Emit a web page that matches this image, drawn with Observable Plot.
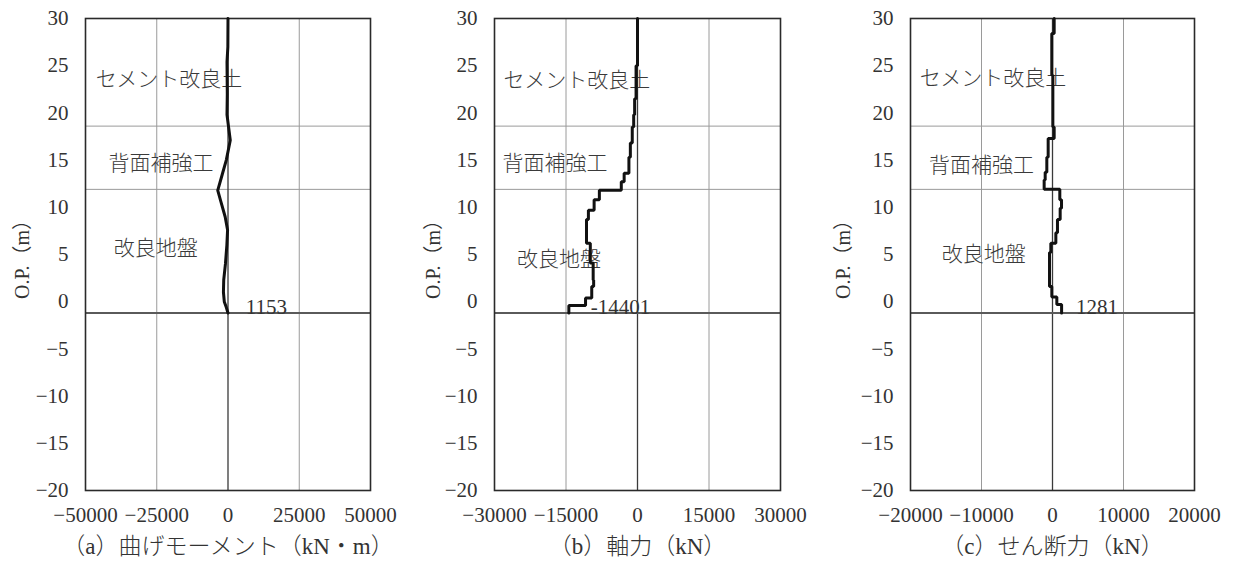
<!DOCTYPE html>
<html>
<head>
<meta charset="utf-8">
<script src="https://cdn.jsdelivr.net/npm/d3@7"></script>
<script src="https://cdn.jsdelivr.net/npm/@observablehq/plot@0.6"></script>
<style>
  html, body { margin: 0; padding: 0; background: #fff; }
  #row { display: flex; flex-direction: row; width: 1237px; height: 567px; }
  #row svg { display: block; }
</style>
</head>
<body>
<div id="row"></div>
<script>
// ---------- shared ----------
const depthTicks = [-20, -15, -10, -5, 0, 5, 10, 15, 20, 25, 30];
const layerBoundaries = [18.6, 11.9];
const baseLevel = -1.2;
const layerNames = ["セメント改良土", "背面補強工", "改良地盤"];
const yLabel = "O.P.（m）";

// ---------- (a) bending moment ----------
const momentTicks = [-50000, -25000, 0, 25000, 50000];
const momentDepth = [30, 27, 25.4, 22, 19.8, 18.5, 17.1, 15, 13.5, 11.8, 10.5, 9, 7.6, 6, 4, 2.3, 1, 0, -0.6, -1.2];
const momentValue = [0, -50, -350, -250, -350, 200, 800, -600, -2000, -3600, -2400, -1000, -150, -400, -900, -1500, -1600, -1300, -600, 0];
const momentLabelX = [-46400, -41900, -40100];
const momentLabelY = [23.6, 14.7, 5.7];
const momentMaxText = "1153";
const momentMaxX = 6200;
const momentCaption = "（a）曲げモーメント（kN・m）";

// ---------- (b) axial force (stepped) ----------
const axialTicks = [-30000, -15000, 0, 15000, 30000];
const axialBounds = [30, 25, 21.5, 19.8, 18.5, 16.8, 15.3, 13.6, 12.7, 11.8, 10.8, 9.7, 8.7, 6.2, 4.1, 2.3, 1.6, 0.4, -0.4, -1.2];
const axialValue = [0, -300, -600, -800, -1100, -1500, -1800, -2800, -3400, -8000, -9100, -10300, -10700, -9900, -9300, -9200, -9600, -10900, -14401];
const axialLabelX = [-28100, -28300, -25300];
const axialLabelY = [23.5, 14.7, 4.5];
const axialMaxText = "-14401";
const axialMaxX = -9800;
const axialCaption = "（b）軸力（kN）";

// ---------- (c) shear force (stepped) ----------
const shearTicks = [-20000, -10000, 0, 10000, 20000];
const shearBounds = [30, 28.4, 24, 18.5, 17.3, 15.3, 13.7, 12.9, 11.9, 10.8, 9.9, 8.7, 7.3, 6.2, 5.2, 1.6, 0.5, -0.3, -1.2];
const shearValue = [235, -100, 50, 235, -610, -800, -1030, -1175, 1030, 1270, 1080, 700, 470, -235, -420, -95, 610, 1281];
const shearLabelX = [-18700, -17400, -15600];
const shearLabelY = [23.7, 14.5, 5];
const shearMaxText = "1281";
const shearMaxX = 3300;
const shearCaption = "（c）せん断力（kN）";

// ---------- helpers ----------
const FONT = "'Liberation Serif', 'Noto Sans CJK JP', serif";
const INK = "#333";

function stepVertices(bounds, values) {
  const pts = [];
  values.forEach((v, i) => {
    pts.push({x: v, y: bounds[i]});
    pts.push({x: v, y: bounds[i + 1]});
  });
  return pts;
}

function panel({width, marginLeft, marginRight, ticks, points, labelX, labelY, maxText, maxX, caption, yLabelDx}) {
  const labels = layerNames.map((n, i) => ({n, x: labelX[i], y: labelY[i]}));
  return Plot.plot({
    width, height: 567,
    marginLeft, marginRight, marginTop: 18, marginBottom: 77,
    style: {fontFamily: FONT, fontSize: "21px", color: INK, background: "#fff", overflow: "visible"},
    x: {domain: [ticks[0], ticks[ticks.length - 1]]},
    y: {domain: [-20, 30]},
    marks: [
      Plot.ruleX(ticks.filter(t => t !== 0 && t !== ticks[0] && t !== ticks[ticks.length - 1]), {stroke: "#9a9a9a", strokeWidth: 1}),
      Plot.ruleY(layerBoundaries, {stroke: "#9a9a9a", strokeWidth: 1}),
      Plot.ruleX([0], {stroke: "#3a3a3a", strokeWidth: 1.3}),
      Plot.ruleY([baseLevel], {stroke: "#5a5a5a", strokeWidth: 2}),
      Plot.frame({stroke: "#2a2a2a", strokeWidth: 1.6}),
      Plot.axisX({ticks, tickSize: 0, tickPadding: 17, tickFormat: d3.format("d"), label: null, fontSize: 21, fill: INK}),
      Plot.axisY({ticks: depthTicks, tickSize: 0, tickPadding: 17, tickFormat: d3.format("d"), label: null, fontSize: 21, fill: INK}),
      Plot.text([yLabel], {frameAnchor: "left", textAnchor: "middle", rotate: -90, dx: yLabelDx, fontSize: 20, fill: INK}),
      Plot.text(labels, {x: "x", y: "y", text: "n", textAnchor: "start", fontSize: 21, fill: "#3a3a3a", fontWeight: 300}),
      Plot.line(points, {x: "x", y: "y", stroke: "#111", strokeWidth: 3, strokeLinejoin: "miter"}),
      Plot.text([maxText], {x: maxX, y: baseLevel, textAnchor: "start", lineAnchor: "bottom", dy: 1, fontSize: 21, fill: INK}),
      Plot.text([caption], {frameAnchor: "bottom", dy: 63, fontSize: 23, fill: INK, fontWeight: 300})
    ]
  });
}

const row = document.getElementById("row");
row.append(panel({
  width: 412, marginLeft: 85, marginRight: 42, ticks: momentTicks,
  points: momentDepth.map((y, i) => ({x: momentValue[i], y})),
  labelX: momentLabelX, labelY: momentLabelY, maxText: momentMaxText, maxX: momentMaxX,
  caption: momentCaption, yLabelDx: -63
}));
row.append(panel({
  width: 412, marginLeft: 82, marginRight: 44, ticks: axialTicks,
  points: stepVertices(axialBounds, axialValue),
  labelX: axialLabelX, labelY: axialLabelY, maxText: axialMaxText, maxX: axialMaxX,
  caption: axialCaption, yLabelDx: -61
}));
row.append(panel({
  width: 413, marginLeft: 86, marginRight: 43, ticks: shearTicks,
  points: stepVertices(shearBounds, shearValue),
  labelX: shearLabelX, labelY: shearLabelY, maxText: shearMaxText, maxX: shearMaxX,
  caption: shearCaption, yLabelDx: -67
}));
</script>
</body>
</html>
